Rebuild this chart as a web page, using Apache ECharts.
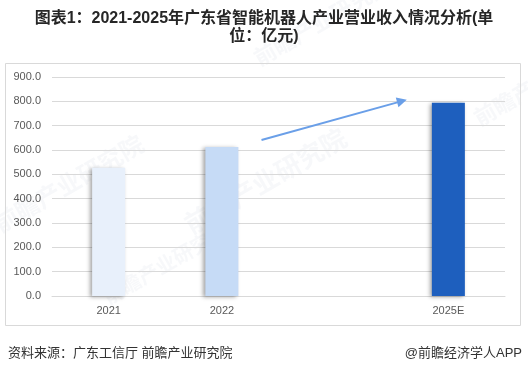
<!DOCTYPE html>
<html><head><meta charset="utf-8">
<script src="https://cdn.jsdelivr.net/npm/echarts@6/dist/echarts.min.js"></script>
<style>html,body{margin:0;padding:0;background:#fff}#c{width:528px;height:375px}</style>
</head><body><div id="c"></div>
<script>
const categories = ['2021', '2022', '', '2025E'];
const revenue = [527, 612, null, 794];
const barColors = ['#E8F0FB', '#C6DBF6', '#C6DBF6', '#1E5FBE'];
const yTicks = { min: 0, max: 900, interval: 100 };
const arrowStart = [1.35, 641];
const arrowEnd = [2.59, 801];
const titleText = '图表1：2021-2025年广东省智能机器人产业营业收入情况分析(单\n位：亿元)';
const sourceText = '资料来源：广东工信厅 前瞻产业研究院';
const brandText = '@前瞻经济学人APP';

const FONT = '"Liberation Sans", "Noto Sans CJK SC", sans-serif';
const chart = echarts.init(document.getElementById('c'), null, { renderer: 'canvas' });

const wm = (x, y, size) => ({
  type: 'text', x: x, y: y, rotation: Math.PI / 6, z: 0, silent: true,
  style: { text: '前瞻产业研究院', fill: 'rgba(190,198,210,0.12)', font: 'bold ' + size + 'px "Noto Sans CJK SC"' }
});

chart.setOption({
  animation: false,
  backgroundColor: '#fff',
  title: {
    text: titleText, left: 'center', top: 5,
    textStyle: { fontFamily: FONT, fontSize: 16, fontWeight: 'bold', color: '#262626', lineHeight: 18 }
  },
  grid: { left: 52, right: 23, top: 77, bottom: 79, containLabel: false },
  xAxis: [{
    type: 'category', data: categories,
    axisLine: { lineStyle: { color: '#d9d9d9' } },
    axisTick: { show: false },
    axisLabel: { color: '#595959', fontSize: 11, fontFamily: FONT, margin: 9 }
  }, {
    type: 'value', min: -0.5, max: 3.5, show: false
  }],
  yAxis: {
    type: 'value', min: yTicks.min, max: yTicks.max, interval: yTicks.interval,
    axisLine: { show: false }, axisTick: { show: false },
    splitLine: { lineStyle: { color: '#d9d9d9' } },
    axisLabel: { color: '#595959', fontSize: 11, fontFamily: FONT, margin: 11,
      formatter: v => v.toFixed(1) }
  },
  series: [{
    type: 'bar', barWidth: 33, z: 3,
    data: revenue.map((v, i) => ({ value: v, itemStyle: { color: barColors[i] } })),
    itemStyle: { shadowColor: 'rgba(0,0,0,0.35)', shadowBlur: 4, shadowOffsetX: -2, shadowOffsetY: 1 }
  }, {
    type: 'line', xAxisIndex: 1, data: [], z: 4,
    markLine: {
      silent: true, symbol: ['none', 'triangle'], symbolSize: [10, 10],
      label: { show: false },
      lineStyle: { color: '#6A9FE8', width: 2, type: 'solid' },
      data: [[{ coord: arrowStart }, { coord: arrowEnd }]]
    }
  }],
  graphic: [
    wm(250, 50, 22), wm(180, 215, 26), wm(-10, 215, 24), wm(470, 110, 22), wm(100, 290, 20),
    { type: 'rect', z: 1, silent: true, shape: { x: 5.5, y: 63.5, width: 515, height: 262 },
      style: { fill: 'none', stroke: '#d9d9d9', lineWidth: 1 } },
    { type: 'text', left: 8, top: 347, silent: true,
      style: { text: sourceText, fill: '#333', font: '13px ' + FONT } },
    { type: 'text', right: 6, top: 347, silent: true,
      style: { text: brandText, fill: '#333', font: '13px ' + FONT } }
  ]
});
</script></body></html>
